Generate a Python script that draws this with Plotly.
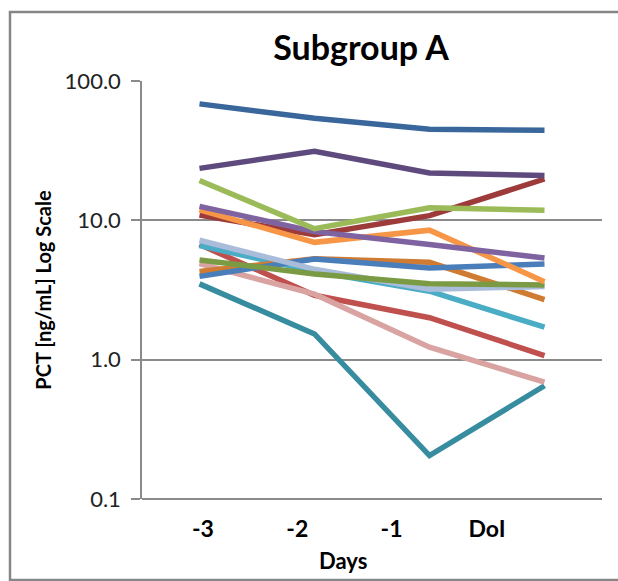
import plotly.graph_objects as go

categories = ["-3", "-2", "-1", "DoI"]
tick_positions = [0.03, 0.85, 1.67, 2.5]

s_teal = [3.5, 1.53, 0.205, 0.65]
s_pink = [4.9, 2.95, 1.23, 0.69]
s_red = [6.7, 2.9, 2.0, 1.07]
s_cyan = [6.6, 4.3, 3.1, 1.71]
s_darkorange = [4.3, 5.3, 5.0, 2.7]
s_blue = [3.96, 5.28, 4.55, 4.86]
s_lightblue = [7.2, 4.45, 3.2, 3.35]
s_olive = [5.2, 4.12, 3.5, 3.44]
s_orange = [11.9, 6.95, 8.5, 3.63]
s_purple = [12.6, 8.3, 6.7, 5.37]
s_darkred = [10.9, 7.9, 10.8, 19.8]
s_green = [19.3, 8.7, 12.3, 11.8]
s_darkpurple = [23.6, 31.3, 21.9, 21.0]
s_darkblue = [68.5, 54.0, 45.0, 44.3]

series = [
    (s_teal, "#378d9f"),
    (s_red, "#c0504d"),
    (s_pink, "#d9a3a1"),
    (s_cyan, "#4bacc6"),
    (s_darkorange, "#d07b32"),
    (s_blue, "#4a7ebb"),
    (s_lightblue, "#a9bcd9"),
    (s_olive, "#7a9a43"),
    (s_darkred, "#9c3b39"),
    (s_orange, "#f79646"),
    (s_purple, "#7f63a1"),
    (s_green, "#9bbb59"),
    (s_darkpurple, "#5f4a7e"),
    (s_darkblue, "#3a679b"),
]

x_idx = list(range(len(categories)))

fig = go.Figure()
for vals, col in series:
    fig.add_trace(go.Scatter(x=x_idx, y=vals, mode="lines",
                             line=dict(color=col, width=5.5), showlegend=False,
                             hoverinfo="y"))

grid = "#8a8a8a"
fig.update_layout(
    width=618, height=581,
    margin=dict(l=142, r=16, t=81, b=82),
    paper_bgcolor="white", plot_bgcolor="white",
    font=dict(family="Lato, 'Open Sans', sans-serif", color="#111"),
    title=dict(text="<b>Subgroup A</b>", x=(361) / 618, xanchor="center",
               y=1 - 48 / 581, yanchor="middle",
               font=dict(size=34, color="#000")),
    xaxis=dict(range=[-0.5, 3.5], tickvals=tick_positions,
               ticktext=["<b>%s</b>" % c for c in categories],
               showgrid=False, zeroline=False, showline=False, ticks="",
               ticklabelstandoff=14,
               tickfont=dict(size=23, color="#000"), fixedrange=True),
    yaxis=dict(type="log", range=[-1, 2], tickvals=[0.1, 1, 10, 100],
               ticktext=["0.1", "1.0", "10.0", "100.0"],
               showgrid=True, gridcolor=grid, gridwidth=1.5,
               showline=True, linecolor=grid, linewidth=1.5,
               ticks="outside", ticklen=9, tickcolor=grid, tickwidth=1.5,
               ticklabelstandoff=6,
               tickfont=dict(size=22, color="#222"),
               title=dict(text="<b>PCT [ng/mL] Log Scale</b>",
                          font=dict(size=20, color="#000"), standoff=8),
               zeroline=False, fixedrange=True),
    shapes=[
        dict(type="line", xref="paper", yref="paper", x0=0, x1=1, y0=0, y1=0,
             line=dict(color=grid, width=2), layer="above"),
        dict(type="rect", xref="paper", yref="paper",
             x0=(10 - 142) / 460, x1=(640 - 142) / 460,
             y0=(499 - 580) / 418, y1=(499 - 12) / 418,
             line=dict(color="#868686", width=2.5), fillcolor="rgba(0,0,0,0)"),
    ],
    annotations=[
        dict(text="<b>Days</b>", xref="paper", yref="paper",
             x=(343 - 142) / 460, y=(499 - 560) / 418, xanchor="center",
             yanchor="middle", showarrow=False,
             font=dict(size=22, color="#000")),
    ],
)

fig.write_html("out.html")
